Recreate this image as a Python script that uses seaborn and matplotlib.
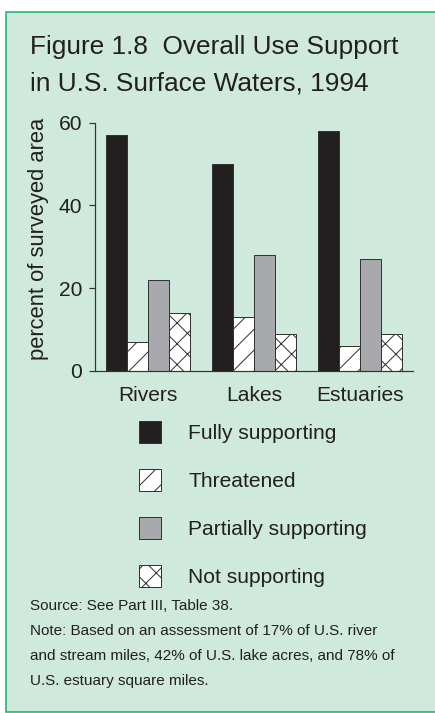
import matplotlib
matplotlib.use("Agg")
import matplotlib.pyplot as plt
from matplotlib.patches import Rectangle, Patch
import pandas as pd
import seaborn as sns

# Share of surveyed area by use-support status, 1994
waters = ["Rivers", "Lakes", "Estuaries"]
statuses = ["Fully supporting", "Threatened", "Partially supporting", "Not supporting"]
fully_supporting = [57, 50, 58]
threatened = [7, 13, 6]
partially_supporting = [22, 28, 27]
not_supporting = [14, 9, 9]
y_ticks = [0, 20, 40, 60]

title_lines = ["Figure 1.8  Overall Use Support", "in U.S. Surface Waters, 1994"]
footer_lines = [
    "Source: See Part III, Table 38.",
    "Note: Based on an assessment of 17% of U.S. river",
    "and stream miles, 42% of U.S. lake acres, and 78% of",
    "U.S. estuary square miles.",
]

DPI = 125
W, H = 435, 713


def pt(pixels):
    return pixels * 72 / DPI


TEXT = "#231f20"
EDGE = "#333333"
BOX_FILL = "#cfe9dc"
BOX_EDGE = "#1fb26f"
fills = {"Fully supporting": "#231f20", "Threatened": "#ffffff",
         "Partially supporting": "#a7a9ac", "Not supporting": "#ffffff"}
hatches = {"Fully supporting": "", "Threatened": "//",
           "Partially supporting": "", "Not supporting": "xx"}

sns.set_theme(style="white")
plt.rcParams["font.family"] = ["Liberation Sans", "DejaVu Sans"]
plt.rcParams["hatch.linewidth"] = pt(1.0)
plt.rcParams["text.color"] = TEXT

df = pd.DataFrame({
    "water": waters * 4,
    "status": [s for s in statuses for _ in waters],
    "pct": fully_supporting + threatened + partially_supporting + not_supporting,
})

fig = plt.figure(figsize=(W / DPI, H / DPI), dpi=DPI)
fig.patch.set_facecolor("white")

# green panel behind everything
fig.add_artist(Rectangle((6 / W, 0.6 / H), 1.2, 1 - 12.6 / H,
                         transform=fig.transFigure, facecolor=BOX_FILL,
                         edgecolor=BOX_EDGE, linewidth=pt(1.6), zorder=-10))

ax = fig.add_axes([95 / W, 1 - 370.7 / H, 318 / W, 248 / H])
ax.set_facecolor("none")

sns.barplot(data=df, x="water", y="pct", hue="status", order=waters,
            hue_order=statuses, palette=fills, saturation=1, width=0.8,
            edgecolor=EDGE, linewidth=pt(1.0), legend=False, ax=ax)

for status, container in zip(statuses, ax.containers):
    for bar in container:
        bar.set_hatch(hatches[status])

ax.set_xlim(-0.5, 2.5)
ax.set_ylim(0, 60)
ax.set_yticks(y_ticks)
ax.set_xlabel("")
ax.set_ylabel("percent of surveyed area", fontsize=pt(22), color=TEXT)
ax.yaxis.set_label_coords(-0.145, 0.533)

for side in ("top", "right"):
    ax.spines[side].set_visible(False)
for side in ("left", "bottom"):
    ax.spines[side].set_color(EDGE)
    ax.spines[side].set_linewidth(pt(1.2))

ax.tick_params(axis="y", which="both", left=True, length=pt(6), width=pt(1.2),
               color=EDGE, pad=pt(7), labelsize=pt(21), labelcolor=TEXT)
ax.tick_params(axis="x", length=0, pad=pt(15.5), labelsize=pt(21), labelcolor=TEXT)

# legend below the plot
handles = [Patch(facecolor=fills[s], edgecolor=EDGE, hatch=hatches[s],
                 linewidth=pt(1.0)) for s in statuses]
fig.legend(handles, statuses, loc="upper left",
           bbox_to_anchor=(139 / W, 1 - 421 / H), frameon=False,
           fontsize=pt(21), handlelength=22 / 21, handleheight=1.235,
           handletextpad=1.29, labelspacing=1.24, borderpad=0,
           borderaxespad=0)

# title
for baseline, line in zip([54, 90.7], title_lines):
    fig.text(30 / W, 1 - baseline / H, line, fontsize=pt(26.3), va="baseline",
             ha="left", color=TEXT)

# source and note
for baseline, line in zip([610, 635, 660, 685], footer_lines):
    fig.text(30 / W, 1 - baseline / H, line, fontsize=pt(15.3),
             va="baseline", ha="left", color=TEXT)

fig.savefig("out.png", dpi=DPI, facecolor=fig.get_facecolor())
